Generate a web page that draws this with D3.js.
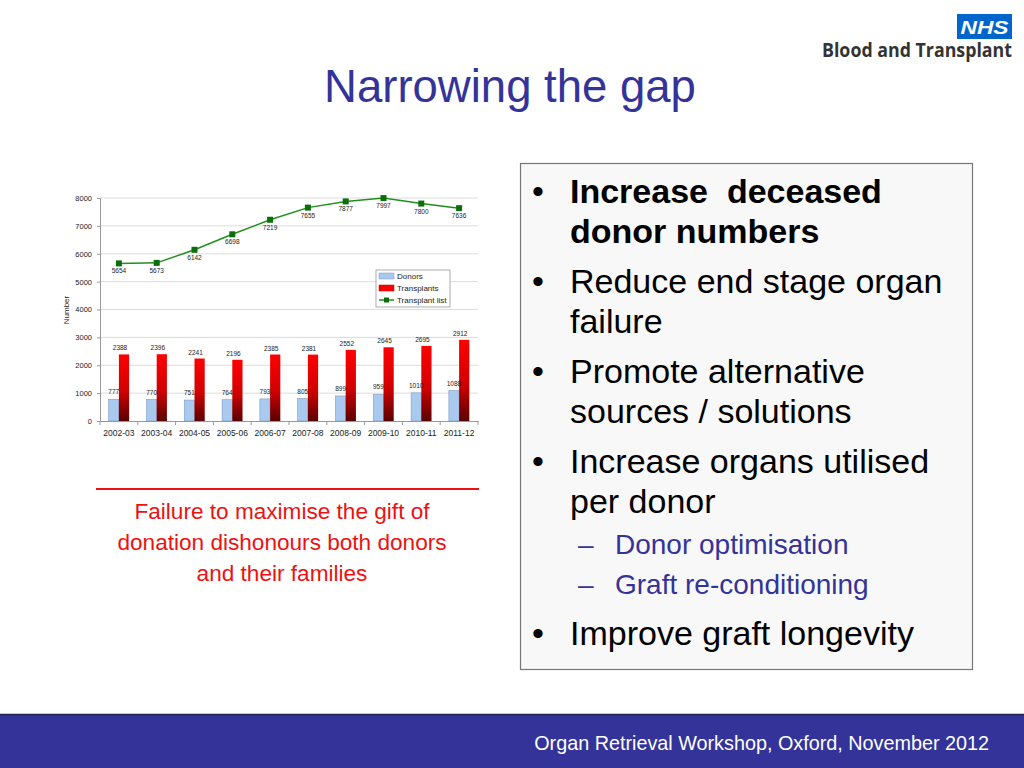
<!DOCTYPE html>
<html>
<head>
<meta charset="utf-8">
<script src="https://cdn.jsdelivr.net/npm/d3@7"></script>
<style>
  body { margin: 0; background: #fff; }
  svg { display: block; font-family: "Liberation Sans", Arial, sans-serif; }
</style>
</head>
<body>
<div id="slide"></div>
<script>
const years = ["2002-03", "2003-04", "2004-05", "2005-06", "2006-07", "2007-08", "2008-09", "2009-10", "2010-11", "2011-12"];
const donors = [777, 770, 751, 764, 793, 805, 899, 959, 1010, 1088];
const transplants = [2388, 2396, 2241, 2196, 2385, 2381, 2552, 2645, 2695, 2912];
const waitingList = [5654, 5673, 6142, 6698, 7219, 7655, 7877, 7997, 7800, 7636];
const yTicks = [0, 1000, 2000, 3000, 4000, 5000, 6000, 7000, 8000];
const legendNames = ["Donors", "Transplants", "Transplant list"];

const bullets = [
  { lines: ["Increase  deceased", "donor numbers"], bold: true },
  { lines: ["Reduce end stage organ", "failure"] },
  { lines: ["Promote alternative", "sources / solutions"] },
  { lines: ["Increase organs utilised", "per donor"] },
  { lines: ["Donor optimisation"], sub: true },
  { lines: ["Graft re-conditioning"], sub: true },
  { lines: ["Improve graft longevity"] }
];
const quote = ["Failure to maximise the gift of", "donation dishonours both donors", "and their families"];

const svg = d3.select("#slide").append("svg")
  .attr("width", 1024)
  .attr("height", 768);

const defs = svg.append("defs");
const grad = defs.append("linearGradient")
  .attr("id", "redGrad")
  .attr("x1", 0).attr("y1", 0).attr("x2", 0).attr("y2", 1);
grad.append("stop").attr("offset", "0%").attr("stop-color", "#ff0000");
grad.append("stop").attr("offset", "55%").attr("stop-color", "#d00000");
grad.append("stop").attr("offset", "100%").attr("stop-color", "#5a0000");

// logo
svg.append("rect").attr("x", 957).attr("y", 14).attr("width", 55).attr("height", 25).attr("fill", "#0066cc");
svg.append("text").attr("x", 984.5).attr("y", 34).attr("text-anchor", "middle")
  .attr("fill", "#fff").attr("font-size", 19).attr("font-weight", "bold").attr("font-style", "italic")
  .attr("textLength", 48).attr("lengthAdjust", "spacingAndGlyphs")
  .text("NHS");
svg.append("text").attr("x", 1012).attr("y", 57).attr("text-anchor", "end")
  .attr("fill", "#333").attr("font-size", 19).attr("font-weight", "bold")
  .attr("font-family", "'Open Sans', sans-serif")
  .attr("textLength", 190).attr("lengthAdjust", "spacingAndGlyphs")
  .text("Blood and Transplant");

// title
svg.append("text").attr("x", 510).attr("y", 102).attr("text-anchor", "middle")
  .attr("fill", "#333399").attr("font-size", 45.5)
  .text("Narrowing the gap");

// chart
const x = d3.scaleBand().domain(years).range([100, 478]);
const y = d3.scaleLinear().domain([0, 8000]).range([421, 198]);
const sub = d3.scaleBand().domain(["d", "t"]).range([0, x.bandwidth()]).paddingInner(0).paddingOuter(0.85);

const chart = svg.append("g");

chart.append("g").selectAll("line").data(yTicks.slice(1)).join("line")
  .attr("x1", 100).attr("x2", 478)
  .attr("y1", d => y(d)).attr("y2", d => y(d))
  .attr("stroke", "#dcdcdc").attr("stroke-width", 1);

const yAxis = chart.append("g").attr("transform", "translate(100,0)")
  .call(d3.axisLeft(y).tickValues(yTicks).tickFormat(d3.format("d")).tickSize(3).tickPadding(5));
yAxis.selectAll("text").attr("font-size", 7.5).attr("fill", "#222");
yAxis.selectAll("path, line").attr("stroke", "#999");

const xAxis = chart.append("g").attr("transform", "translate(0,421)")
  .call(d3.axisBottom(x).tickSize(0).tickPadding(9));
xAxis.selectAll("text").attr("font-size", 8.5).attr("fill", "#222");
xAxis.select("path").attr("stroke", "#999");
chart.append("g").selectAll("line").data(years).join("line")
  .attr("x1", d => x(d)).attr("x2", d => x(d))
  .attr("y1", 421).attr("y2", 425).attr("stroke", "#999");
chart.append("line").attr("x1", 478).attr("x2", 478).attr("y1", 421).attr("y2", 425).attr("stroke", "#999");

chart.append("text").attr("transform", "translate(69,310) rotate(-90)")
  .attr("text-anchor", "middle").attr("font-size", 8).attr("fill", "#222").text("Number");

// donor bars
chart.append("g").selectAll("rect").data(years).join("rect")
  .attr("x", d => x(d) + sub("d"))
  .attr("width", sub.bandwidth())
  .attr("y", (d, i) => y(donors[i]))
  .attr("height", (d, i) => y(0) - y(donors[i]))
  .attr("fill", "#a9c9ef").attr("stroke", "#7f9cc0").attr("stroke-width", 0.6);

chart.append("g").selectAll("rect").data(years).join("rect")
  .attr("x", d => x(d) + sub("t"))
  .attr("width", sub.bandwidth())
  .attr("y", (d, i) => y(transplants[i]))
  .attr("height", (d, i) => y(0) - y(transplants[i]))
  .attr("fill", "url(#redGrad)");

chart.append("g").selectAll("text").data(years).join("text")
  .attr("x", d => x(d) + sub("d") + sub.bandwidth() / 2)
  .attr("y", (d, i) => y(donors[i]) - 5)
  .attr("text-anchor", "middle").attr("font-size", 6.5).attr("fill", "#222")
  .text((d, i) => donors[i]);

chart.append("g").selectAll("text").data(years).join("text")
  .attr("x", d => x(d) + sub("t") + sub.bandwidth() / 2 - 4)
  .attr("y", (d, i) => y(transplants[i]) - 4)
  .attr("text-anchor", "middle").attr("font-size", 6.5).attr("fill", "#222")
  .text((d, i) => transplants[i]);

// transplant list line
const cx = d => x(d) + x.bandwidth() / 2;
chart.append("path").datum(years)
  .attr("d", d3.line().x(cx).y((d, i) => y(waitingList[i])))
  .attr("fill", "none").attr("stroke", "#1f8f1f").attr("stroke-width", 1.5);
chart.append("g").selectAll("rect").data(years).join("rect")
  .attr("x", d => cx(d) - 3).attr("y", (d, i) => y(waitingList[i]) - 3)
  .attr("width", 6).attr("height", 6).attr("fill", "#0b6e0b");
chart.append("g").selectAll("text").data(years).join("text")
  .attr("x", d => cx(d)).attr("y", (d, i) => y(waitingList[i]) + 10)
  .attr("text-anchor", "middle").attr("font-size", 6.5).attr("fill", "#222")
  .text((d, i) => waitingList[i]);

// legend
const lg = chart.append("g").attr("transform", "translate(376,270)");
lg.append("rect").attr("width", 74).attr("height", 37).attr("fill", "#fff").attr("stroke", "#888").attr("stroke-width", 0.7);
const items = lg.selectAll("g").data(legendNames).join("g")
  .attr("transform", (d, i) => `translate(3,${6 + i * 12})`);
items.each(function (d, i) {
  const g = d3.select(this);
  if (i === 2) {
    g.append("line").attr("x1", 0).attr("x2", 15).attr("y1", 0).attr("y2", 0).attr("stroke", "#1f8f1f").attr("stroke-width", 1.5);
    g.append("rect").attr("x", 5).attr("y", -2.5).attr("width", 5).attr("height", 5).attr("fill", "#0b6e0b");
  } else {
    g.append("rect").attr("x", 0).attr("y", -3).attr("width", 15).attr("height", 6)
      .attr("fill", i === 0 ? "#a9c9ef" : "#ff0000").attr("stroke", i === 0 ? "#7f9cc0" : "#c00000").attr("stroke-width", 0.5);
  }
  g.append("text").attr("x", 18).attr("y", 3).attr("font-size", 8).attr("fill", "#222").text(d);
});

// quote
svg.append("line").attr("x1", 96).attr("x2", 479).attr("y1", 489).attr("y2", 489)
  .attr("stroke", "#ee1111").attr("stroke-width", 2);
svg.append("g").selectAll("text").data(quote).join("text")
  .attr("x", 282).attr("y", (d, i) => 519 + i * 31)
  .attr("text-anchor", "middle").attr("font-size", 22.6).attr("fill", "#ee1111")
  .text(d => d);

// bullet box
svg.append("rect").attr("x", 520.5).attr("y", 163.5).attr("width", 452).attr("height", 506)
  .attr("fill", "#f8f8f8").attr("stroke", "#777").attr("stroke-width", 1.2);

let yy = 203;
const box = svg.append("g");
bullets.forEach((b, bi) => {
  if (b.sub) {
    box.append("text").attr("x", 578).attr("y", yy - 1).attr("font-size", 28).attr("fill", "#333399").text("–");
    box.append("text").attr("x", 615).attr("y", yy - 1).attr("font-size", 28).attr("fill", "#333399").text(b.lines[0]);
    yy += 40;
    if (!bullets[bi + 1] || !bullets[bi + 1].sub) yy += 10;
    return;
  }
  box.append("text").attr("x", 532).attr("y", yy).attr("font-size", 34).attr("fill", "#000").text("•");
  b.lines.forEach((l, li) => {
    box.append("text").attr("x", 570).attr("y", yy + li * 40)
      .attr("font-size", 34).attr("font-weight", b.bold ? "bold" : "normal").attr("fill", "#000")
      .style("white-space", "pre")
      .text(l);
  });
  yy += b.lines.length * 40 + 10;
  if (bullets[bi + 1] && bullets[bi + 1].sub) yy -= 8;
});

// footer
svg.append("rect").attr("x", 0).attr("y", 714).attr("width", 1024).attr("height", 54).attr("fill", "#333399");
svg.append("line").attr("x1", 0).attr("x2", 1024).attr("y1", 714.5).attr("y2", 714.5).attr("stroke", "#222255").attr("stroke-width", 1.5);
svg.append("text").attr("x", 989).attr("y", 750).attr("text-anchor", "end")
  .attr("font-size", 19.8).attr("fill", "#fff")
  .text("Organ Retrieval Workshop, Oxford, November 2012");
</script>
</body>
</html>
